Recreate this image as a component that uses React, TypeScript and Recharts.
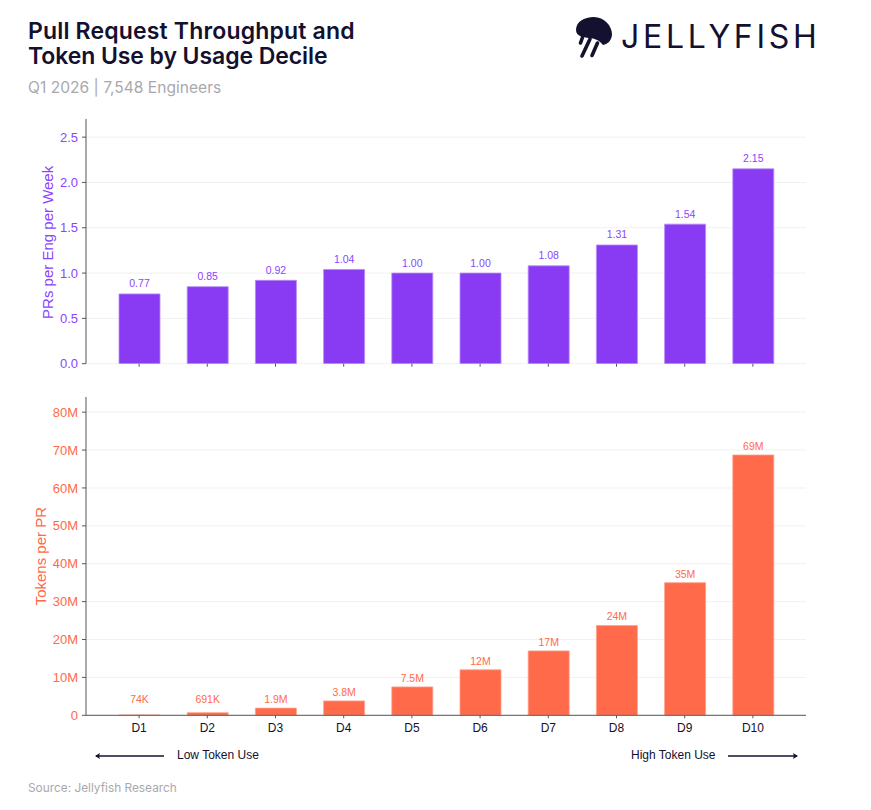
import React from "react";
import { BarChart, Bar, XAxis, YAxis, CartesianGrid, LabelList } from "recharts";

const categories = ["D1", "D2", "D3", "D4", "D5", "D6", "D7", "D8", "D9", "D10"];
const prValues = [0.77, 0.85, 0.92, 1.04, 1.0, 1.0, 1.08, 1.31, 1.54, 2.15];
const prLabels = ["0.77", "0.85", "0.92", "1.04", "1.00", "1.00", "1.08", "1.31", "1.54", "2.15"];
const tokenValues = [0.074, 0.691, 1.9, 3.8, 7.5, 12, 17, 23.7, 35, 68.7];
const tokenLabels = ["74K", "691K", "1.9M", "3.8M", "7.5M", "12M", "17M", "24M", "35M", "69M"];
const prTicks = [0, 0.5, 1, 1.5, 2, 2.5];
const tokenTicks = [0, 10, 20, 30, 40, 50, 60, 70, 80];

const prData = categories.map((c, i) => ({ c, v: prValues[i], l: prLabels[i] }));
const tokenData = categories.map((c, i) => ({ c, v: tokenValues[i], l: tokenLabels[i] }));

const PURPLE = "#883bf3";
const PURPLE_TEXT = "#8b45ff";
const ORANGE = "#ff6a4a";
const NAVY = "#14102f";
const AXIS = "#55555c";
const GRID = "#f1f1f3";
const FONT = "'Liberation Sans', Arial, sans-serif";
const TITLE_FONT = "Inter, sans-serif";

const abs = (left: number, top: number, extra: React.CSSProperties = {}): React.CSSProperties => ({
  position: "absolute",
  left,
  top,
  whiteSpace: "nowrap",
  ...extra,
});

function Logo() {
  return (
    <svg width={46} height={46} style={{ position: "absolute", left: 572, top: 14 }} viewBox="0 0 46 46">
      <path
        d="M4 16 C4 8 12 3 22 3 C32 3 40 12 40 20 C40 26 36 30 31 31 C27 26 22 24 17 24 C12 23 4 23 4 16 Z"
        fill={NAVY}
      />
      <path d="M11 22 L8.5 29" stroke={NAVY} strokeWidth={3.6} strokeLinecap="round" />
      <path d="M18 25 L10 42" stroke={NAVY} strokeWidth={3.6} strokeLinecap="round" />
      <path d="M25.5 29 L20 41.5" stroke={NAVY} strokeWidth={3.6} strokeLinecap="round" />
    </svg>
  );
}

function Arrow({ left, top, width, dir }: { left: number; top: number; width: number; dir: "l" | "r" }) {
  const tip = dir === "l" ? "M0 4 L5 1 L4 4 L5 7 Z" : `M${width} 4 L${width - 5} 1 L${width - 4} 4 L${width - 5} 7 Z`;
  return (
    <svg width={width} height={8} style={{ position: "absolute", left, top }}>
      <line x1={1} x2={width - 1} y1={4} y2={4} stroke={NAVY} strokeWidth={1.7} />
      <path d={tip} fill={NAVY} />
    </svg>
  );
}

function TokenLabel(props: any) {
  const { x, y, width, height, value } = props;
  const top = Math.min(y, y + height - 7.3);
  return (
    <text x={x + width / 2} y={top - 5} textAnchor="middle" fill={ORANGE} fontSize={10.5} fontFamily={FONT}>
      {value}
    </text>
  );
}

export default function App() {
  return (
    <div style={{ position: "absolute", left: 0, top: 0, width: 871, height: 810, background: "#fff", overflow: "hidden" }}>
      <div style={abs(28, 19, { fontFamily: TITLE_FONT, fontWeight: 600, fontSize: 23, lineHeight: "24.5px", color: NAVY })}>
        <span style={{ letterSpacing: 0.17 }}>Pull Request Throughput and</span>
        <br />
        <span style={{ letterSpacing: -0.08 }}>Token Use by Usage Decile</span>
      </div>
      <div style={abs(28, 78, { fontFamily: TITLE_FONT, fontSize: 15.6, lineHeight: "20px", color: "#a9a9ad" })}>Q1 2026 | 7,548 Engineers</div>
      <Logo />
      <div style={abs(621, 17, { fontFamily: "Inter, sans-serif", fontWeight: 400, fontSize: 32, lineHeight: "40px", letterSpacing: 3.7, color: NAVY })}>JELLYFISH</div>

      <div style={abs(0, 110)}>
        <BarChart width={871} height={260} data={prData} margin={{ top: 9, right: 65, bottom: 0, left: 0 }} barSize={41}>
          <CartesianGrid vertical={false} stroke={GRID} syncWithTicks />
          <XAxis dataKey="c" height={6.3} padding={{ left: 19, right: 19 }} axisLine={false} tickLine={{ stroke: AXIS }} tickSize={3} tick={() => <g />} />
          <YAxis
            width={86}
            domain={[0, 2.7]}
            ticks={prTicks}
            allowDataOverflow
            interval={0}
            tickFormatter={(v: number) => v.toFixed(1)}
            tick={{ fill: PURPLE_TEXT, fontSize: 13, fontFamily: FONT }}
            tickSize={4}
            tickMargin={4}
            axisLine={{ stroke: AXIS }}
            tickLine={{ stroke: AXIS }}
            label={{ value: "PRs per Eng per Week", angle: -90, position: "insideLeft", offset: 48, dy: 1, style: { textAnchor: "middle", fill: PURPLE_TEXT, fontSize: 15, fontFamily: FONT } }}
          />
          <Bar dataKey="v" fill={PURPLE} stroke="#b78cf9" strokeWidth={0.8} isAnimationActive={false}>
            <LabelList dataKey="l" position="top" offset={6.5} fill={PURPLE_TEXT} fontSize={10.5} fontFamily={FONT} />
          </Bar>
        </BarChart>
      </div>

      <div style={abs(0, 388)}>
        <BarChart width={871} height={357.3} data={tokenData} margin={{ top: 9, right: 65, bottom: 0, left: 0 }} barSize={41}>
          <CartesianGrid vertical={false} stroke={GRID} syncWithTicks />
          <XAxis
            dataKey="c"
            height={30}
            padding={{ left: 19, right: 19 }}
            axisLine={{ stroke: AXIS }}
            tickLine={{ stroke: AXIS }}
            tickSize={3}
            tickMargin={5}
            interval={0}
            tick={{ fill: NAVY, fontSize: 12, fontFamily: FONT }}
          />
          <YAxis
            width={86}
            domain={[0, 84]}
            ticks={tokenTicks}
            allowDataOverflow
            interval={0}
            tickFormatter={(v: number) => (v === 0 ? "0" : `${v}M`)}
            tick={{ fill: ORANGE, fontSize: 13, fontFamily: FONT }}
            tickSize={4}
            tickMargin={4}
            axisLine={{ stroke: AXIS }}
            tickLine={{ stroke: AXIS }}
            label={{ value: "Tokens per PR", angle: -90, position: "insideLeft", offset: 41, style: { textAnchor: "middle", fill: ORANGE, fontSize: 15, fontFamily: FONT } }}
          />
          <Bar dataKey="v" fill={ORANGE} stroke="#ffa08c" strokeWidth={0.8} isAnimationActive={false}>
            <LabelList dataKey="l" content={TokenLabel} />
          </Bar>
        </BarChart>
      </div>

      <Arrow left={95} top={752} width={70} dir="l" />
      <div style={abs(177, 748, { fontFamily: FONT, fontSize: 12, lineHeight: "15px", color: NAVY })}>Low Token Use</div>
      <div style={abs(631, 748, { fontFamily: FONT, fontSize: 12, lineHeight: "15px", color: NAVY })}>High Token Use</div>
      <Arrow left={727} top={752} width={71} dir="r" />
      <div style={abs(28, 781, { fontFamily: TITLE_FONT, fontSize: 11.85, lineHeight: "15px", color: "#a9a9ad" })}>Source: Jellyfish Research</div>
    </div>
  );
}
